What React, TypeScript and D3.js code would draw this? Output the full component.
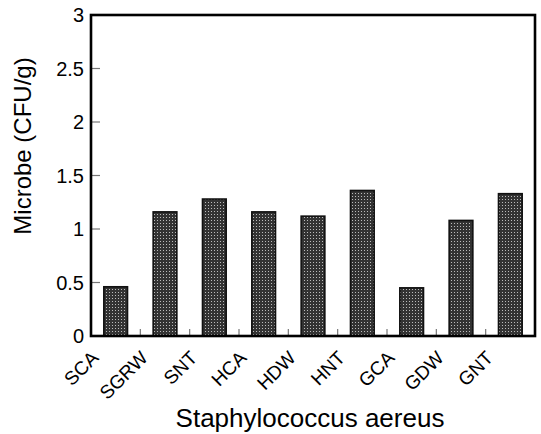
import React, { useRef, useEffect } from "react";
import * as d3 from "d3";

// data
const categories = ["SCA", "SGRW", "SNT", "HCA", "HDW", "HNT", "GCA", "GDW", "GNT"];
const values = [0.46, 1.16, 1.28, 1.16, 1.12, 1.36, 0.45, 1.08, 1.33];
const yTicks = [0, 0.5, 1, 1.5, 2, 2.5, 3];

const font = "'Liberation Sans', Arial, Helvetica, sans-serif";

export default function App() {
  const ref = useRef<SVGSVGElement>(null);

  useEffect(() => {
    const width = 541;
    const height = 434;
    const margin = { top: 15, right: 6, bottom: 98, left: 91 };

    const svg = d3.select(ref.current);
    svg.selectAll("*").remove();
    svg.attr("width", width).attr("height", height).style("font-family", font);

    // bar texture
    const pat = svg.append("defs").append("pattern")
      .attr("id", "grain")
      .attr("width", 3)
      .attr("height", 3)
      .attr("patternUnits", "userSpaceOnUse");
    pat.append("rect").attr("width", 3).attr("height", 3).attr("fill", "#333");
    pat.append("rect").attr("x", 1).attr("y", 1).attr("width", 1).attr("height", 1).attr("fill", "#bbb");

    const x = d3.scaleBand()
      .domain(categories)
      .range([margin.left, width - margin.right])
      .paddingInner(0.52)
      .paddingOuter(0.26);

    const y = d3.scaleLinear()
      .domain([0, 3])
      .range([height - margin.bottom, margin.top]);

    const x0 = margin.left;
    const x1 = width - margin.right;
    const y0 = y(0);
    const y1 = y(3);

    // bars
    svg.append("g")
      .selectAll("rect")
      .data(values)
      .join("rect")
      .attr("x", (d, i) => x(categories[i])!)
      .attr("y", d => y(d))
      .attr("width", x.bandwidth())
      .attr("height", d => y0 - y(d))
      .attr("fill", "url(#grain)")
      .attr("stroke", "#111")
      .attr("stroke-width", 1.6);

    // y ticks inward
    svg.append("g")
      .selectAll("line")
      .data(yTicks.slice(1, -1))
      .join("line")
      .attr("x1", x0)
      .attr("x2", x0 + 9)
      .attr("y1", d => y(d))
      .attr("y2", d => y(d))
      .attr("stroke", "#777")
      .attr("stroke-width", 1.2);

    // x ticks between bars
    const step = x.step();
    svg.append("g")
      .selectAll("line")
      .data(categories.slice(1))
      .join("line")
      .attr("x1", d => x(d)! - (step - x.bandwidth()) / 2)
      .attr("x2", d => x(d)! - (step - x.bandwidth()) / 2)
      .attr("y1", y0)
      .attr("y2", y0 - 7)
      .attr("stroke", "#777")
      .attr("stroke-width", 1.2);

    // frame
    svg.append("rect")
      .attr("x", x0)
      .attr("y", y1)
      .attr("width", x1 - x0)
      .attr("height", y0 - y1)
      .attr("fill", "none")
      .attr("stroke", "#000")
      .attr("stroke-width", 2.6);

    // y tick labels
    svg.append("g")
      .selectAll("text")
      .data(yTicks)
      .join("text")
      .attr("x", x0 - 7)
      .attr("y", d => y(d) + 7)
      .attr("text-anchor", "end")
      .attr("font-size", 20)
      .attr("fill", "#000")
      .text(d => String(d));

    // x tick labels, rotated
    svg.append("g")
      .selectAll("text")
      .data(categories)
      .join("text")
      .attr("transform", d => `translate(${x(d)! + x.bandwidth() / 2 - 16},${y0 + 23}) rotate(-45)`)
      .attr("text-anchor", "end")
      .attr("font-size", 19)
      .attr("fill", "#000")
      .text(d => d);

    // axis titles
    svg.append("text")
      .attr("transform", `translate(31,146) rotate(-90)`)
      .attr("text-anchor", "middle")
      .attr("font-size", 24)
      .attr("fill", "#000")
      .text("Microbe (CFU/g)");

    svg.append("text")
      .attr("x", 310)
      .attr("y", 427)
      .attr("text-anchor", "middle")
      .attr("font-size", 26)
      .attr("fill", "#000")
      .text("Staphylococcus aereus");
  }, []);

  return <svg ref={ref} style={{ position: "absolute", left: 0, top: 0 }}></svg>;
}
